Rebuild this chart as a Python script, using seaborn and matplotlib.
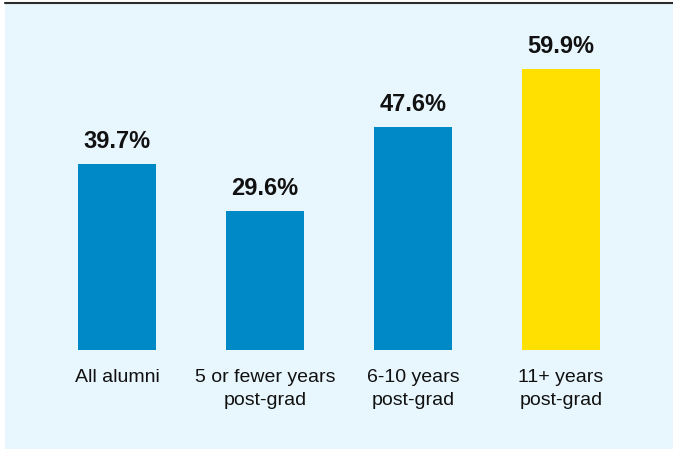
import matplotlib.pyplot as plt
import pandas as pd
import seaborn as sns
from matplotlib.lines import Line2D
from matplotlib.patches import Rectangle

# chart data
groups = ["All alumni", "5 or fewer years\npost-grad", "6-10 years\npost-grad", "11+ years\npost-grad"]
shares = [39.7, 29.6, 47.6, 59.9]
bar_colors = ["#0089c7", "#0089c7", "#0089c7", "#ffe000"]

BG = "#e8f6fd"

sns.set_style("white")
plt.rcParams["font.family"] = ["Liberation Sans Narrow", "Liberation Sans", "DejaVu Sans"]

df = pd.DataFrame({"group": groups, "share": shares})

fig = plt.figure(figsize=(6.73, 4.49), dpi=100, facecolor="white")
# light blue panel and the rule along the top
fig.patches.append(Rectangle((5 / 673, 0), 668 / 673, 446 / 449, transform=fig.transFigure,
                             facecolor=BG, edgecolor="none", zorder=-10))
fig.lines.append(Line2D([5 / 673, 1], [1 - 2.5 / 449, 1 - 2.5 / 449], transform=fig.transFigure,
                        color="#2b2b2b", linewidth=1.5, zorder=-5))

ax = fig.add_axes([43 / 673, 1 - 350 / 449, 592 / 673, 328 / 449])
ax.set_facecolor("none")

sns.barplot(data=df, x="group", y="share", hue="group", palette=bar_colors,
            legend=False, width=0.53, saturation=1, edgecolor="none", linewidth=0, ax=ax)

ax.set_xlim(-0.5, 3.5)
ax.set_ylim(0, 70)
for i, v in enumerate(shares):
    ax.text(i, v + 3.4, f"{v:.1f}%", ha="center", va="baseline", fontsize=17,
            fontweight="bold", color="#111111")

ax.set_xlabel("")
ax.set_ylabel("")
ax.set_yticks([])
ax.tick_params(axis="x", length=0, pad=14, labelsize=14, labelcolor="#111111")
for lbl in ax.get_xticklabels():
    lbl.set_linespacing(1.45)
sns.despine(ax=ax, left=True, bottom=True)

fig.savefig("out.png", dpi=100, facecolor=fig.get_facecolor())
